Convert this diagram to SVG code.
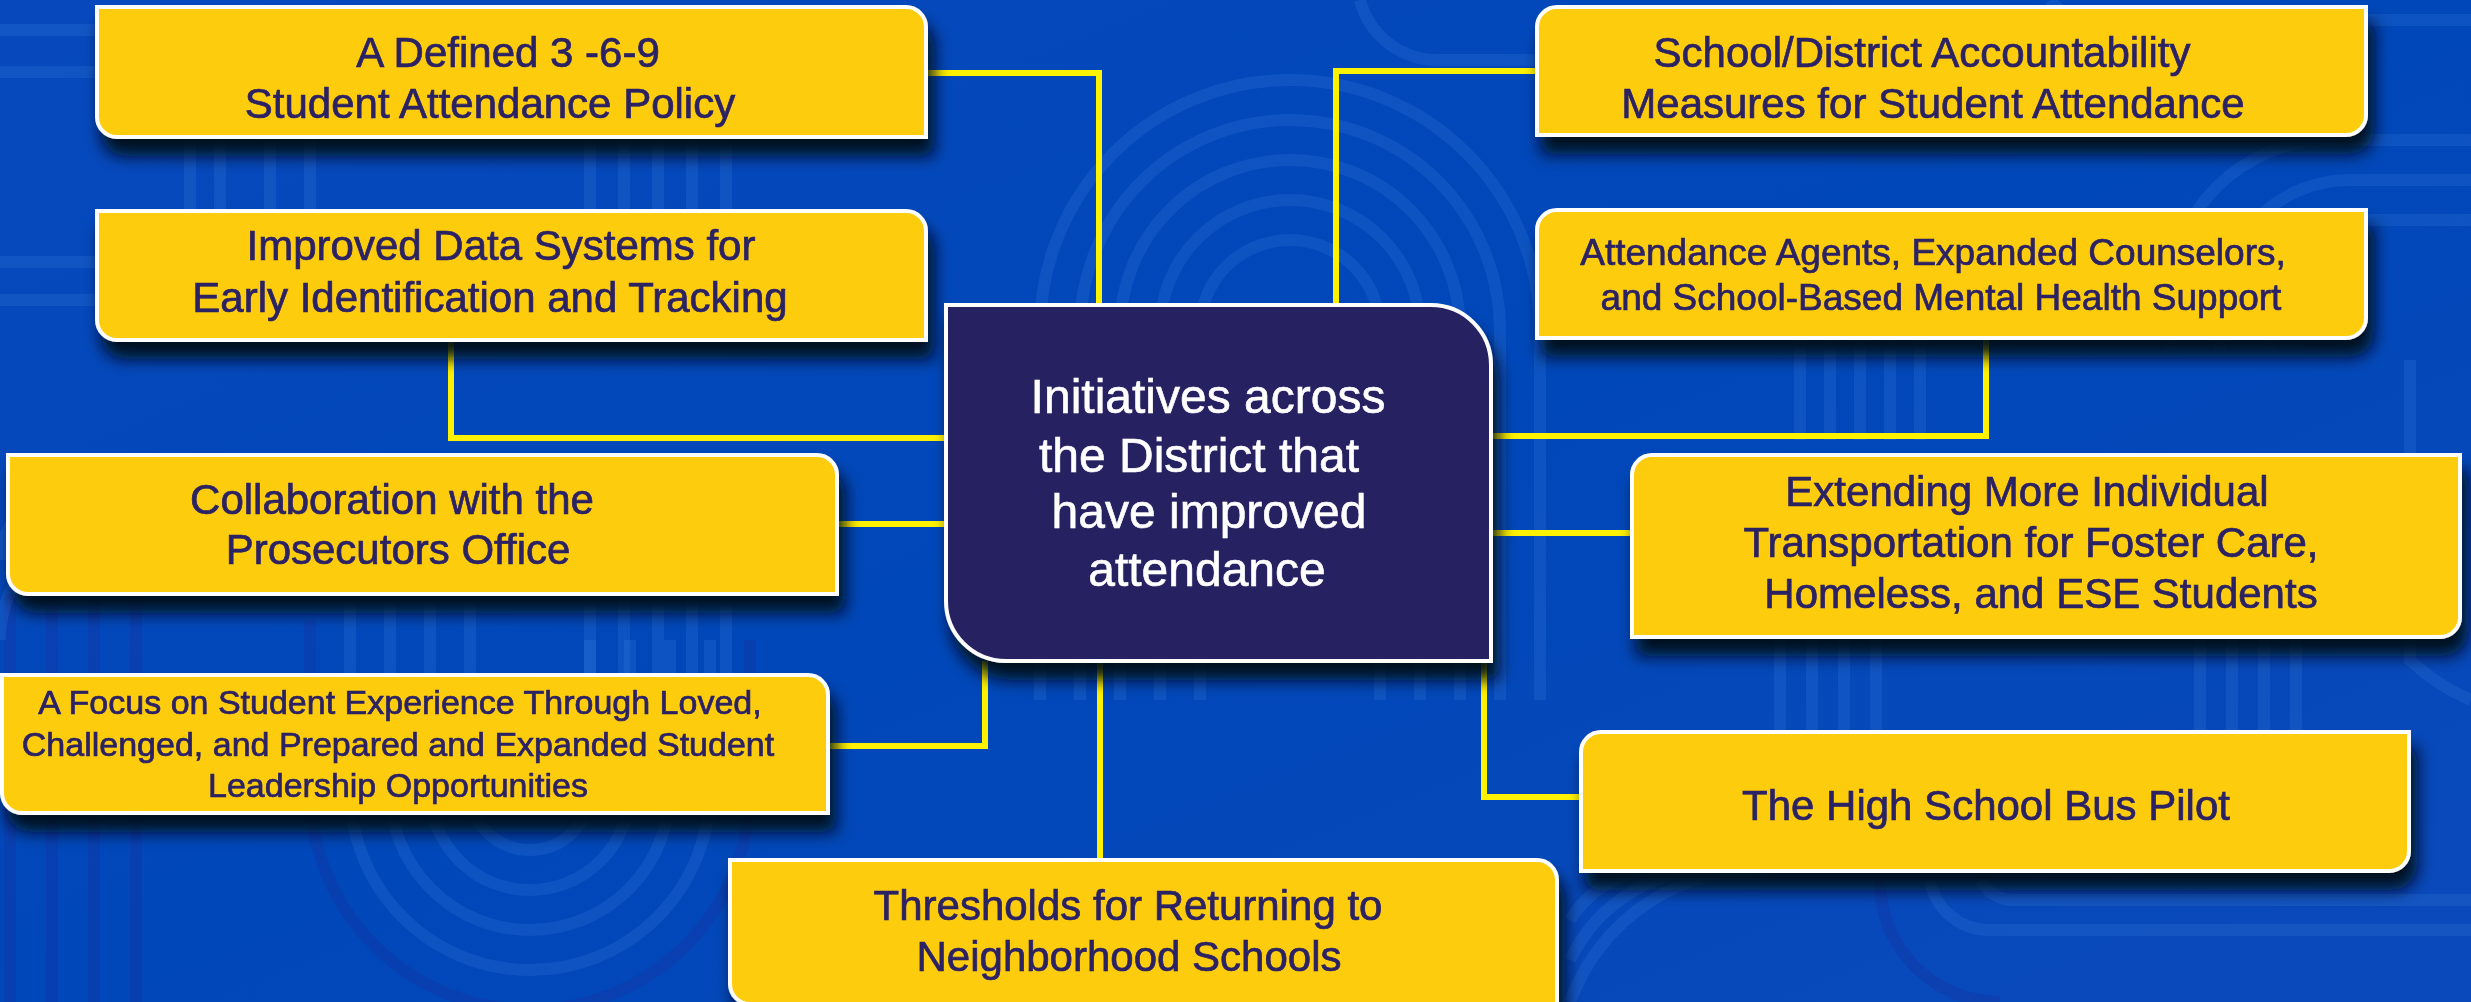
<svg xmlns="http://www.w3.org/2000/svg" width="2471" height="1002" viewBox="0 0 2471 1002">
  <defs>
    <filter id="shadow" x="-10%" y="-20%" width="130%" height="170%">
      <feDropShadow dx="6" dy="17" stdDeviation="8" flood-color="#000818" flood-opacity="0.95"/>
    </filter>
    <linearGradient id="bg" x1="0" y1="0" x2="1" y2="1">
      <stop offset="0" stop-color="#0749bd"/>
      <stop offset="0.5" stop-color="#0047b9"/>
      <stop offset="1" stop-color="#0a49bb"/>
    </linearGradient>
  </defs>
  <style>
    .box { fill: #fccc10; stroke: #ffffff; stroke-width: 4; }
    .hub { fill: #282262; stroke: #ffffff; stroke-width: 4; }
    .lbl { font-family: "Liberation Sans", Arial, sans-serif; fill: #2b2163; stroke: #2b2163; stroke-width: 0.7; text-anchor: middle; font-size: 42px; }
    .hubtxt { font-family: "Liberation Sans", Arial, sans-serif; fill: #ffffff; stroke: #ffffff; stroke-width: 0.6; text-anchor: middle; font-size: 48px; }
    .conn { fill: none; stroke: #fff200; stroke-width: 6; stroke-linejoin: miter; }
    .deco { fill: none; stroke: #3f86e0; stroke-opacity: 0.2; stroke-width: 12; }
    .decod { fill: none; stroke: #1a2f9a; stroke-opacity: 0.3; stroke-width: 12; }
  </style>

  <!-- background -->
  <rect x="0" y="0" width="2471" height="1002" fill="url(#bg)"/>
  <g id="background-pattern">
    <path class="deco" d="M1200 700 V330 A90 90 0 0 1 1380 330 V700"/>
    <path class="deco" d="M1160 700 V330 A130 130 0 0 1 1420 330 V700"/>
    <path class="deco" d="M1120 700 V330 A170 170 0 0 1 1460 330 V700"/>
    <path class="deco" d="M1080 700 V330 A210 210 0 0 1 1500 330 V700"/>
    <path class="deco" d="M1040 700 V330 A250 250 0 0 1 1540 330 V700"/>
    <path class="deco" d="M0 30 H200 A110 110 0 0 1 310 140 V330"/>
    <path class="deco" d="M0 72 H190 A80 80 0 0 1 270 152 V330"/>
    <path class="deco" d="M0 300 H160 A60 60 0 0 0 220 240 V140"/>
    <path class="deco" d="M0 262 H140 A50 50 0 0 0 190 212 V140"/>
    <path class="decod" d="M10 594 V1002 M52 594 V1002 M94 594 V1002 M136 594 V1002"/>
    <path class="deco" d="M590 140 V210 M624 140 V210 M658 140 V210 M692 140 V210 M726 140 V210"/>
    <path class="deco" d="M590 600 V675 M624 600 V675 M658 600 V675 M692 600 V675 M726 600 V675"/>
    <path class="deco" d="M470 600 V790 A60 60 0 0 0 590 790 V640"/>
    <path class="deco" d="M430 600 V790 A100 100 0 0 0 630 790 V640"/>
    <path class="deco" d="M390 600 V790 A140 140 0 0 0 670 790 V640"/>
    <path class="deco" d="M350 600 V790 A180 180 0 0 0 710 790 V640"/>
    <path class="decod" d="M310 620 V790 A220 220 0 0 0 750 790 V640"/>
    <path class="deco" d="M0 640 A120 120 0 0 1 120 520"/>
    <path class="deco" d="M0 560 A60 60 0 0 1 60 500"/>
    <path class="deco" d="M2471 140 H2330 A160 160 0 0 0 2170 300 V350"/>
    <path class="deco" d="M2471 180 H2350 A130 130 0 0 0 2220 310 V350"/>
    <path class="deco" d="M2471 220 H2370 A100 100 0 0 0 2270 320 V350"/>
    <path class="deco" d="M2410 360 V660 A200 200 0 0 0 2471 700"/>
    <path class="deco" d="M1800 340 V440 M1830 340 V440 M1860 340 V440 M1890 340 V440 M1920 340 V440"/>
    <path class="deco" d="M1780 640 V730 M1812 640 V730 M1844 640 V730 M1876 640 V730"/>
    <path class="deco" d="M2200 640 V730 M2232 640 V730 M2264 640 V730 M2296 640 V730"/>
    <path class="decod" d="M1880 880 A120 120 0 0 0 2000 1002"/>
    <path class="deco" d="M1930 880 A60 60 0 0 0 1990 930 H2471"/>
    <path class="deco" d="M1980 880 A40 40 0 0 0 2020 900 H2471"/>
    <path class="deco" d="M1570 1002 A200 200 0 0 1 1770 870"/>
    <path class="deco" d="M1570 960 A160 160 0 0 1 1730 870"/>
    <path class="deco" d="M1570 920 A110 110 0 0 1 1680 870"/>
    <path class="deco" d="M2050 0 A60 60 0 0 0 2110 20 H2471"/>
    <path class="deco" d="M1360 0 A80 80 0 0 0 1440 60 H1537"/>
  </g>

  <!-- connectors -->
  <g id="connectors">
    <polyline class="conn" points="926,73 1099,73 1099,305"/>
    <polyline class="conn" points="451,340 451,438 946,438"/>
    <polyline class="conn" points="837,524 946,524"/>
    <polyline class="conn" points="828,746 985,746 985,661"/>
    <polyline class="conn" points="1100,661 1100,860"/>
    <polyline class="conn" points="1537,71 1336,71 1336,305"/>
    <polyline class="conn" points="1986,338 1986,436 1491,436"/>
    <polyline class="conn" points="1491,533 1632,533"/>
    <polyline class="conn" points="1484,661 1484,797 1581,797"/>
  </g>

  <!-- nodes -->
  <g id="node-policy" filter="url(#shadow)">
    <path class="box" d="M97 7 H906 A20 20 0 0 1 926 27 V137 H117 A20 20 0 0 1 97 117 Z"/>
    <text class="lbl" x="508" y="67">A Defined 3 -6-9</text>
    <text class="lbl" x="490" y="118">Student Attendance Policy</text>
  </g>

  <g id="node-data" filter="url(#shadow)">
    <path class="box" d="M97 211 H906 A20 20 0 0 1 926 231 V340 H117 A20 20 0 0 1 97 320 Z"/>
    <text class="lbl" x="501" y="260">Improved Data Systems for</text>
    <text class="lbl" x="490" y="312">Early Identification and Tracking</text>
  </g>

  <g id="node-prosecutors" filter="url(#shadow)">
    <path class="box" d="M8 455 H817 A20 20 0 0 1 837 475 V594 H28 A20 20 0 0 1 8 574 Z"/>
    <text class="lbl" x="392" y="514">Collaboration with the</text>
    <text class="lbl" x="398" y="564">Prosecutors Office</text>
  </g>

  <g id="node-experience" filter="url(#shadow)">
    <path class="box" d="M2 675 H808 A20 20 0 0 1 828 695 V813 H22 A20 20 0 0 1 2 793 Z"/>
    <text class="lbl" style="font-size:34px" x="400" y="714">A Focus on Student Experience Through Loved,</text>
    <text class="lbl" style="font-size:34px" x="398" y="756">Challenged, and Prepared and Expanded Student</text>
    <text class="lbl" style="font-size:34px" x="398" y="797">Leadership Opportunities</text>
  </g>

  <g id="node-thresholds" filter="url(#shadow)">
    <path class="box" d="M730 860 H1537 A20 20 0 0 1 1557 880 V1004 H750 A20 20 0 0 1 730 984 Z"/>
    <text class="lbl" x="1128" y="920">Thresholds for Returning to</text>
    <text class="lbl" x="1129" y="971">Neighborhood Schools</text>
  </g>

  <g id="node-center" filter="url(#shadow)">
    <path class="hub" d="M946 305 H1431 A60 60 0 0 1 1491 365 V661 H1006 A60 60 0 0 1 946 601 Z"/>
    <text class="hubtxt" x="1208" y="413">Initiatives across</text>
    <text class="hubtxt" x="1199" y="472">the District that</text>
    <text class="hubtxt" x="1209" y="528">have improved</text>
    <text class="hubtxt" x="1207" y="586">attendance</text>
  </g>

  <g id="node-accountability" filter="url(#shadow)">
    <path class="box" d="M1557 7 H2366 V115 A20 20 0 0 1 2346 135 H1537 V27 A20 20 0 0 1 1557 7 Z"/>
    <text class="lbl" x="1922" y="67">School/District Accountability</text>
    <text class="lbl" x="1933" y="118">Measures for Student Attendance</text>
  </g>

  <g id="node-agents" filter="url(#shadow)">
    <path class="box" d="M1557 210 H2366 V318 A20 20 0 0 1 2346 338 H1537 V230 A20 20 0 0 1 1557 210 Z"/>
    <text class="lbl" style="font-size:37px" x="1933" y="265">Attendance Agents, Expanded Counselors,</text>
    <text class="lbl" style="font-size:37px" x="1941" y="310">and School-Based Mental Health Support</text>
  </g>

  <g id="node-transportation" filter="url(#shadow)">
    <path class="box" d="M1652 455 H2460 V617 A20 20 0 0 1 2440 637 H1632 V475 A20 20 0 0 1 1652 455 Z"/>
    <text class="lbl" x="2027" y="506">Extending More Individual</text>
    <text class="lbl" x="2031" y="557">Transportation for Foster Care,</text>
    <text class="lbl" x="2041" y="608">Homeless, and ESE Students</text>
  </g>

  <g id="node-bus" filter="url(#shadow)">
    <path class="box" d="M1601 732 H2409 V851 A20 20 0 0 1 2389 871 H1581 V752 A20 20 0 0 1 1601 732 Z"/>
    <text class="lbl" x="1986" y="820">The High School Bus Pilot</text>
  </g>
</svg>
